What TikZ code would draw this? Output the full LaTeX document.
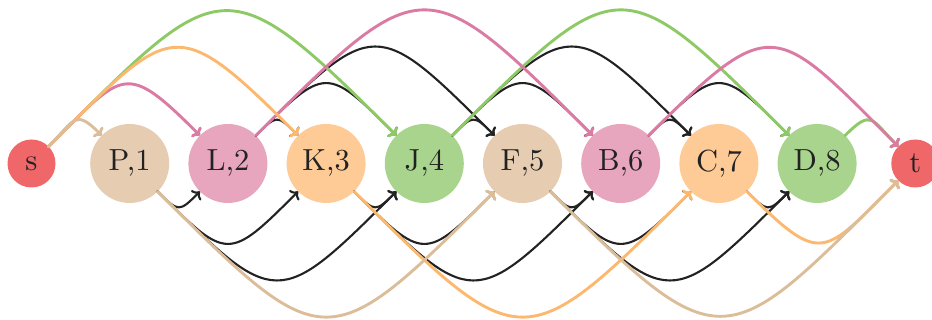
\documentclass[tikz,border=0pt]{standalone}
\usepackage{fontspec}
\setmainfont{lmroman10-regular}[Extension=.otf]
\usetikzlibrary{arrows.meta}
\definecolor{redc}{HTML}{F0676A}
\definecolor{tanF}{HTML}{E6CCB1}
\definecolor{tanL}{HTML}{DBBD9A}
\definecolor{pinkF}{HTML}{E8A5BE}
\definecolor{pinkL}{HTML}{DB7AA3}
\definecolor{oraF}{HTML}{FECB96}
\definecolor{oraL}{HTML}{FDB870}
\definecolor{grnF}{HTML}{A9D48D}
\definecolor{grnL}{HTML}{8DCA66}
\definecolor{ink}{HTML}{222222}
\begin{document}
\begin{tikzpicture}[x=1pt,y=1pt,
  vtx/.style={circle,minimum size=79pt,inner sep=0pt,outer sep=0pt,text=ink,
    font=\fontsize{30.5}{35}\selectfont},
  term/.style={vtx,minimum size=48pt,fill=redc},
  arcup/.style={out=45,in=135,looseness=1.8},
  arcdn/.style={out=-45,in=-135,looseness=1.8},
  edge/.style={line cap=round,-{To[length=6.5pt,width=14pt]}},
  blk/.style={edge,draw=ink,line width=2.1pt},
  ctan/.style={edge,draw=tanL,line width=2.9pt},
  cpink/.style={edge,draw=pinkL,line width=2.9pt},
  cora/.style={edge,draw=oraL,line width=2.9pt},
  cgrn/.style={edge,draw=grnL,line width=2.9pt}
]
\useasboundingbox (0,0) rectangle (932,320);
% nodes
\node[term] (s) at (31.5,156.5) {s};
\node[vtx,fill=tanF]  (p) at (129.7,156.5) {P,1};
\node[vtx,fill=pinkF] (l) at (227.9,156.5) {L,2};
\node[vtx,fill=oraF]  (k) at (326.1,156.5) {K,3};
\node[vtx,fill=grnF]  (j) at (424.3,156.5) {J,4};
\node[vtx,fill=tanF]  (f) at (522.5,156.5) {F,5};
\node[vtx,fill=pinkF] (b) at (620.7,156.5) {B,6};
\node[vtx,fill=oraF]  (c) at (718.9,156.5) {C,7};
\node[vtx,fill=grnF]  (d) at (817.1,156.5) {D,8};
\node[term] (t) at (915.3,156.5) {t};
% black edges, above
\draw[blk] (l.45) to[arcup] (k.135);
\draw[blk] (l.45) to[arcup] (j.135);
\draw[blk] (l.45) to[arcup] (f.135);
\draw[blk] (j.45) to[arcup] (f.135);
\draw[blk] (j.45) to[arcup] (b.135);
\draw[blk] (j.45) to[arcup] (c.135);
\draw[blk] (b.45) to[arcup] (c.135);
\draw[blk] (b.45) to[arcup] (d.135);
% black edges, below
\draw[blk] (p.-45) to[arcdn] (l.-135);
\draw[blk] (p.-45) to[arcdn] (k.-135);
\draw[blk] (p.-45) to[arcdn] (j.-135);
\draw[blk] (k.-45) to[arcdn] (j.-135);
\draw[blk] (k.-45) to[arcdn] (f.-135);
\draw[blk] (k.-45) to[arcdn] (b.-135);
\draw[blk] (f.-45) to[arcdn] (b.-135);
\draw[blk] (f.-45) to[arcdn] (c.-135);
\draw[blk] (f.-45) to[arcdn] (d.-135);
\draw[blk] (c.-45) to[arcdn] (d.-135);
% green path
\draw[cgrn] (s.45) to[arcup] (j.135);
\draw[cgrn] (j.45) to[arcup] (d.135);
\draw[cgrn] (d.45) to[arcup] (t.135);
% pink path
\draw[cpink] (s.45) to[arcup] (l.135);
\draw[cpink] (l.45) to[arcup] (b.135);
\draw[cpink] (b.45) to[arcup] (t.135);
% orange path
\draw[cora] (s.45) to[arcup] (k.135);
\draw[cora] (k.-45) to[arcdn] (c.-135);
\draw[cora] (c.-45) to[arcdn] (t.-135);
% tan path
\draw[ctan] (s.45) to[arcup] (p.135);
\draw[ctan] (p.-45) to[arcdn] (f.-135);
\draw[ctan] (f.-45) to[arcdn] (t.-135);
\end{tikzpicture}
\end{document}
